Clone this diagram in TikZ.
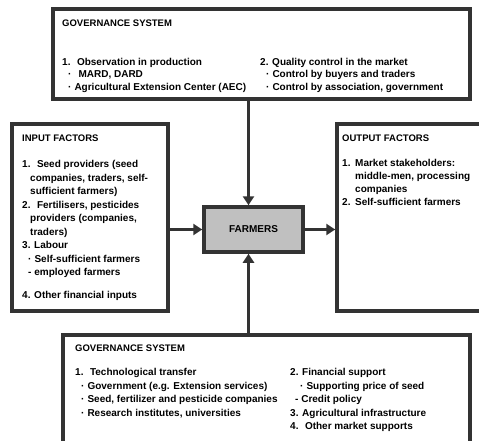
\documentclass[tikz,border=0pt]{standalone}
\usepackage{fontspec}
\setmainfont{Liberation Sans}
\usetikzlibrary{arrows.meta, positioning, calc}
\definecolor{fborder}{HTML}{333333}
\definecolor{ffarm}{HTML}{C0C0C0}
\tikzset{
  framebox/.style={draw=fborder, line width=3.5pt, fill=white, inner sep=0pt},
  farmbox/.style={draw=fborder, line width=3.5pt, fill=ffarm, inner sep=0pt,
                  font=\fontsize{10}{12}\selectfont\bfseries},
  boxtitle/.style={anchor=base west, inner sep=0pt, text=black,
                   font=\fontsize{9.5}{12}\selectfont\bfseries},
  % multi-line blocks are placed by the baseline of their last line
  boxtext/.style={anchor=base west, inner sep=0pt, align=left, text=black,
                  font=\fontsize{10}{13.5}\selectfont\bfseries},
  flow/.style={-{Triangle[length=9pt,width=11pt]}, line width=3.5pt, fborder},
}
\newcommand{\dotitem}{\hspace*{6pt}·\hspace{3pt}}

\begin{document}
\begin{tikzpicture}[x=1pt, y=-1pt]
  \useasboundingbox (0,0) rectangle (479,441);
  \clip (0,0) rectangle (479,441);

  % frames
  \node[framebox, minimum width=417pt, minimum height=90pt]  (govtop) at (261.5,54) {};
  \node[framebox, minimum width=156pt, minimum height=187pt] (inputs) at (90,217.5) {};
  \node[framebox, minimum width=158pt, minimum height=187pt] (outputs) at (416,217.5) {};
  \node[framebox, minimum width=407pt, minimum height=135pt] (govbot) at (266.5,402.5) {};
  \node[farmbox, minimum width=99pt, minimum height=45pt]    (farmers) at (253.5,229.5) {FARMERS};

  % arrows into and out of the farmers
  \coordinate (upin) at ([xshift=-5pt]farmers.north);
  \coordinate (dnin) at ([xshift=-5pt]farmers.south);
  \draw[flow] (upin |- govtop.south) -- (upin);
  \draw[flow] (dnin |- govbot.north) -- (dnin);
  \draw[flow] (inputs.east |- farmers.west) -- (farmers.west);
  \draw[flow] (farmers.east) -- (outputs.west |- farmers.east);

  % top governance
  \node[boxtitle] (govtoptitle) at (62,26.5) {GOVERNANCE SYSTEM};
  \node[boxtext, font=\fontsize{10}{12.5}\selectfont\bfseries] (govtopleft) at (62,90.5)
    {1.~ Observation in production\\
     \hspace*{6pt}·\hspace{7pt}MARD, DARD\\
     \dotitem Agricultural Extension Center (AEC)};
  \node[boxtext, font=\fontsize{10}{12.5}\selectfont\bfseries] (govtopright) at (260,90.5)
    {2. Quality control in the market\\
     \dotitem Control by buyers and traders\\
     \dotitem Control by association, government};

  % input factors
  \node[boxtitle] (inputstitle) at (22,141.5) {INPUT FACTORS};
  \node[boxtext] (inputslist) at (22,298)
    {1.~ Seed providers (seed\\
     \hspace*{8pt}companies, traders, self-\\
     \hspace*{8pt}sufficient farmers)\\
     2.~ Fertilisers, pesticides\\
     \hspace*{8pt}providers (companies,\\
     \hspace*{8pt}traders)\\
     3. Labour\\
     \dotitem Self-sufficient farmers\\
     \hspace*{6pt}- employed farmers\\[9pt]
     4. Other financial inputs};

  % output factors
  \node[boxtitle] (outputstitle) at (342,141.5) {OUTPUT FACTORS};
  \node[boxtext, font=\fontsize{10}{13}\selectfont\bfseries] (outputslist) at (342,205.5)
    {\makebox[13pt][l]{1.}Market stakeholders:\\
     \hspace*{13pt}middle-men, processing\\
     \hspace*{13pt}companies\\
     \makebox[13pt][l]{2.}Self-sufficient farmers};

  % bottom governance
  \node[boxtitle] (govbottitle) at (75,351.5) {GOVERNANCE SYSTEM};
  \node[boxtext] (govbotleft) at (75,416)
    {1.~ Technological transfer\\
     \dotitem Government (e.g. Extension services)\\
     \dotitem Seed, fertilizer and pesticide companies\\
     \dotitem Research institutes, universities};
  \node[boxtext] (govbotright) at (290,429.5)
    {2. Financial support\\
     \hspace*{4pt}\dotitem Supporting price of seed\\
     \hspace*{5pt}- Credit policy\\
     3. Agricultural infrastructure\\
     4.~ Other market supports};
\end{tikzpicture}
\end{document}
